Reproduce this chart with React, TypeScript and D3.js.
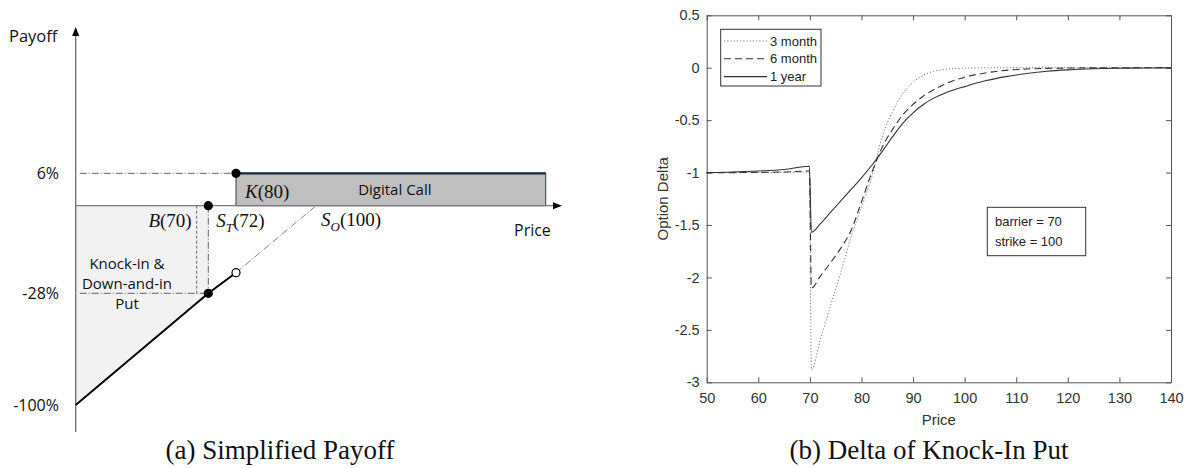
import React, { useEffect, useRef } from "react";
import * as d3 from "d3";

// ---- panel (b): delta of the knock-in put ----
const prices = [50, 55, 60, 65, 69.9, 70.3, 72, 74, 76, 78, 80, 82, 84, 86, 88, 90, 92, 94, 96, 98, 100, 104, 108, 112, 116, 120, 125, 130, 135, 140];
const delta3m = [-1, -1, -0.999, -0.998, -0.995, -2.88, -2.6, -2.27, -1.95, -1.61, -1.33, -1.04, -0.66, -0.42, -0.25, -0.14, -0.07, -0.035, -0.017, -0.008, -0.004, -0.001, 0, 0, 0, 0, 0, 0, 0, 0];
const delta6m = [-1, -1, -0.998, -0.994, -0.985, -2.1, -1.99, -1.86, -1.72, -1.55, -1.28, -1.0, -0.76, -0.59, -0.45, -0.35, -0.27, -0.21, -0.16, -0.12, -0.09, -0.05, -0.025, -0.012, -0.006, -0.003, -0.001, 0, 0, 0];
const delta1y = [-1, -0.995, -0.985, -0.97, -0.94, -1.57, -1.49, -1.38, -1.27, -1.16, -1.05, -0.93, -0.8, -0.66, -0.53, -0.43, -0.35, -0.29, -0.245, -0.21, -0.18, -0.125, -0.085, -0.055, -0.033, -0.02, -0.01, -0.005, -0.002, -0.001];
const seriesNames = ["3 month", "6 month", "1 year"];
const xTicks = [50, 60, 70, 80, 90, 100, 110, 120, 130, 140];
const yTicks = [0.5, 0, -0.5, -1, -1.5, -2, -2.5, -3];
const notes = ["barrier = 70", "strike = 100"];

// ---- panel (a): simplified payoff (schematic positions) ----
const keyPrices = [0, 70, 72, 80, 100, 150];
const keyPayoffs = [-100, -28, -20, 0, 6];
const payoffTicks = [6, -28, -100];
const stockPrices = [0, 72, 80];
const stockPayoffs = [-100, -28, -20];

const sans = "'Liberation Sans', Arial, sans-serif";
const calibri = "'Open Sans', 'Noto Sans', sans-serif";
const math = "'Liberation Serif', serif";

function drawPayoff(g: any) {
  const px = d3.scaleLinear().domain(keyPrices).range([75.7, 196.7, 208.3, 236, 316, 545.7]);
  const py = d3.scaleLinear().domain(keyPayoffs).range([405, 293.3, 272.7, 205.7, 173.3]);
  const line = d3.line<[number, number]>().x((d) => px(d[0])).y((d) => py(d[1]));
  const x0 = px(0);

  // light shaded knock-in region
  g.append("path")
    .attr("d", line([[0, 0], [72, 0], [72, -28], [0, -100]]) + "Z")
    .attr("fill", "#f2f2f2");

  // digital call block
  g.append("rect")
    .attr("x", px(80)).attr("y", py(6))
    .attr("width", px(150) - px(80)).attr("height", py(0) - py(6))
    .attr("fill", "#bfbfbf").attr("stroke", "#2f3c5a").attr("stroke-width", 1);
  g.append("line")
    .attr("x1", px(80)).attr("x2", px(150)).attr("y1", py(6)).attr("y2", py(6))
    .attr("stroke", "#1c2740").attr("stroke-width", 2.2);

  // guide lines
  const dashDot = "7,2,1,2";
  g.append("line").attr("x1", x0 + 4).attr("x2", px(80)).attr("y1", py(6)).attr("y2", py(6))
    .attr("stroke", "#555").attr("stroke-width", 0.9).attr("stroke-dasharray", dashDot);
  g.append("line").attr("x1", x0 + 4).attr("x2", px(72)).attr("y1", py(-28)).attr("y2", py(-28))
    .attr("stroke", "#555").attr("stroke-width", 0.9).attr("stroke-dasharray", dashDot);
  g.append("line").attr("x1", px(70)).attr("x2", px(70)).attr("y1", py(0)).attr("y2", py(-28))
    .attr("stroke", "#555").attr("stroke-width", 0.9).attr("stroke-dasharray", "3,2");
  g.append("line").attr("x1", px(72)).attr("x2", px(72)).attr("y1", py(0)).attr("y2", py(-28))
    .attr("stroke", "#555").attr("stroke-width", 0.9).attr("stroke-dasharray", dashDot);
  g.append("line").attr("x1", px(80)).attr("x2", px(100)).attr("y1", py(-20)).attr("y2", py(0))
    .attr("stroke", "#666").attr("stroke-width", 0.8).attr("stroke-dasharray", dashDot);

  // axes
  g.append("line").attr("x1", x0).attr("x2", x0).attr("y1", 432).attr("y2", 34)
    .attr("stroke", "#6a6a6a").attr("stroke-width", 1.3);
  g.append("path").attr("d", `M${x0},27 L${x0 - 3.5},36 L${x0 + 3.5},36 Z`).attr("fill", "#000");
  g.append("line").attr("x1", x0).attr("x2", 555).attr("y1", py(0)).attr("y2", py(0))
    .attr("stroke", "#7a7a7a").attr("stroke-width", 1.3);
  g.append("path").attr("d", `M562,${py(0)} L553,${py(0) - 3.5} L553,${py(0) + 3.5} Z`).attr("fill", "#000");

  // stock payoff line
  g.append("path")
    .attr("d", line(stockPrices.map((p, i) => [p, stockPayoffs[i]] as [number, number])))
    .attr("fill", "none").attr("stroke", "#000").attr("stroke-width", 2);

  // dots
  [[80, 6], [72, 0], [72, -28]].forEach((d) => {
    g.append("circle").attr("cx", px(d[0])).attr("cy", py(d[1])).attr("r", 4.6).attr("fill", "#000");
  });
  g.append("circle").attr("cx", px(80)).attr("cy", py(-20)).attr("r", 4)
    .attr("fill", "#fff").attr("stroke", "#000").attr("stroke-width", 1.2);

  // labels
  g.append("text").attr("x", 9).attr("y", 42).attr("font-family", calibri).attr("font-size", 16.5)
    .attr("fill", "#111").text("Payoff");
  payoffTicks.forEach((v) => {
    g.append("text").attr("x", 59).attr("y", py(v) + 5.5).attr("text-anchor", "end")
      .attr("font-family", calibri).attr("font-size", 16).attr("fill", "#111").text(`${v}%`);
  });
  g.append("text").attr("x", 514).attr("y", 236).attr("font-family", calibri).attr("font-size", 16)
    .attr("fill", "#111").text("Price");
  g.append("text").attr("x", (px(80) + px(150)) / 2 + 4).attr("y", 194.5).attr("text-anchor", "middle")
    .attr("font-family", calibri).attr("font-size", 15).attr("fill", "#111").text("Digital Call");
  ["Knock-in &", "Down-and-in", "Put"].forEach((t, i) => {
    g.append("text").attr("x", 127).attr("y", 268.5 + i * 20).attr("text-anchor", "middle")
      .attr("font-family", calibri).attr("font-size", 15).attr("fill", "#111").text(t);
  });

  const mathLabel = (xPos: number, yPos: number, main: string, sub: string, rest: string, anchor = "start") => {
    const t = g.append("text").attr("x", xPos).attr("y", yPos).attr("text-anchor", anchor)
      .attr("font-family", math).attr("font-size", 19).attr("fill", "#111");
    t.append("tspan").attr("font-style", "italic").text(main);
    if (sub) t.append("tspan").attr("font-style", "italic").attr("font-size", 13).attr("dy", 5).text(sub);
    t.append("tspan").attr("dy", sub ? -5 : 0).text(rest);
  };
  mathLabel(px(70) - 5, 227, "B", "", "(70)", "end");
  mathLabel(px(72) + 8, 227, "S", "T", "(72)");
  mathLabel(px(80) + 9, 198, "K", "", "(80)");
  mathLabel(px(100) + 5, 226, "S", "O", "(100)");

  g.append("text").attr("x", 280).attr("y", 459).attr("text-anchor", "middle")
    .attr("font-family", math).attr("font-size", 27).attr("fill", "#111").text("(a) Simplified Payoff");
}

function drawDelta(g: any) {
  const x = d3.scaleLinear().domain([50, 140]).range([706.7, 1171]);
  const y = d3.scaleLinear().domain([-3, 0.5]).range([382.3, 15.3]);
  const axisColor = "#555";

  const styleAxis = (a: any) => {
    a.select(".domain").attr("stroke", axisColor).attr("stroke-width", 1);
    a.selectAll(".tick line").attr("stroke", axisColor);
    a.selectAll("text").attr("font-family", sans).attr("font-size", 14.5).attr("fill", "#333");
  };
  styleAxis(g.append("g").attr("transform", `translate(0,${y(-3)})`)
    .call(d3.axisBottom(x).tickValues(xTicks).tickSize(-5).tickSizeOuter(0).tickPadding(10).tickFormat((d: any) => String(d))));
  styleAxis(g.append("g").attr("transform", `translate(0,${y(0.5)})`)
    .call(d3.axisTop(x).tickValues(xTicks).tickSize(-5).tickSizeOuter(0).tickFormat(() => "")));
  styleAxis(g.append("g").attr("transform", `translate(${x(50)},0)`)
    .call(d3.axisLeft(y).tickValues(yTicks).tickSize(-5).tickSizeOuter(0).tickPadding(7).tickFormat((d: any) => String(d))));
  styleAxis(g.append("g").attr("transform", `translate(${x(140)},0)`)
    .call(d3.axisRight(y).tickValues(yTicks).tickSize(-5).tickSizeOuter(0).tickFormat(() => "")));

  g.append("text").attr("x", (x(50) + x(140)) / 2).attr("y", 425).attr("text-anchor", "middle")
    .attr("font-family", sans).attr("font-size", 15).attr("fill", "#333").text("Price");
  g.append("text").attr("transform", `translate(668,${y(-1.25)}) rotate(-90)`).attr("text-anchor", "middle")
    .attr("font-family", sans).attr("font-size", 15).attr("fill", "#333").text("Option Delta");

  const styles = [
    { stroke: "#777", dash: "1.2,2", width: 1 },
    { stroke: "#333", dash: "7,4", width: 1.1 },
    { stroke: "#333", dash: null, width: 1.1 },
  ];
  const line = d3.line<[number, number]>().x((d) => x(d[0])).y((d) => y(d[1])).curve(d3.curveMonotoneX);
  [delta3m, delta6m, delta1y].forEach((s, i) => {
    g.append("path")
      .attr("d", line(prices.map((p, j) => [p, s[j]] as [number, number])))
      .attr("fill", "none").attr("stroke", styles[i].stroke).attr("stroke-width", styles[i].width)
      .attr("stroke-dasharray", styles[i].dash);
  });

  // legend
  const lg = g.append("g");
  lg.append("rect").attr("x", 720.7).attr("y", 29.3).attr("width", 100.3).attr("height", 56.7)
    .attr("fill", "#fff").attr("stroke", "#333").attr("stroke-width", 1);
  seriesNames.forEach((n, i) => {
    const yy = 41 + i * 17.8;
    lg.append("line").attr("x1", 724).attr("x2", 767).attr("y1", yy).attr("y2", yy)
      .attr("stroke", styles[i].stroke).attr("stroke-width", styles[i].width)
      .attr("stroke-dasharray", styles[i].dash);
    lg.append("text").attr("x", 770).attr("y", yy + 4.5).attr("font-family", sans).attr("font-size", 13)
      .attr("fill", "#222").text(n);
  });

  // annotation box
  g.append("rect").attr("x", 987.3).attr("y", 207.3).attr("width", 98.4).attr("height", 48.4)
    .attr("fill", "#fff").attr("stroke", "#333").attr("stroke-width", 1);
  notes.forEach((n, i) => {
    g.append("text").attr("x", 995).attr("y", 225.5 + i * 20.3).attr("font-family", sans).attr("font-size", 13)
      .attr("fill", "#222").text(n);
  });

  g.append("text").attr("x", 929).attr("y", 459).attr("text-anchor", "middle")
    .attr("font-family", math).attr("font-size", 27).attr("fill", "#111").text("(b) Delta of Knock-In Put");
}

export default function App() {
  const ref = useRef<SVGSVGElement>(null);
  useEffect(() => {
    const svg = d3.select(ref.current);
    svg.selectAll("*").remove();
    drawPayoff(svg.append("g"));
    drawDelta(svg.append("g"));
  }, []);
  return (
    <svg
      ref={ref}
      width={1186}
      height={468}
      style={{ position: "absolute", left: 0, top: 0, background: "#fff" }}
    />
  );
}
